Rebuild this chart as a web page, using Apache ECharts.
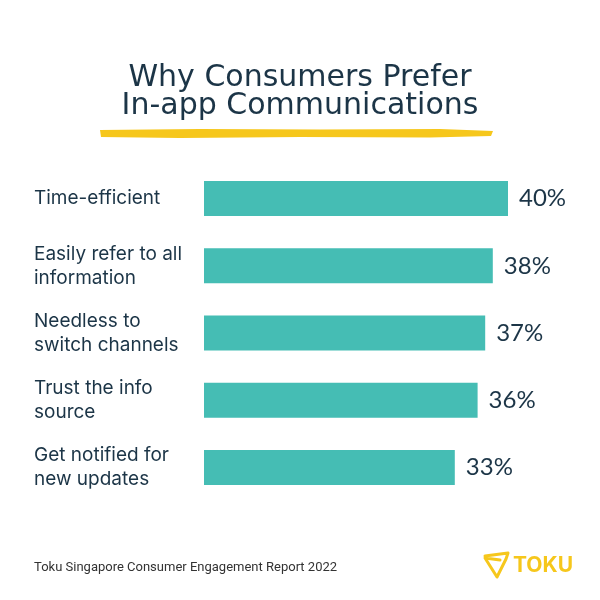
<!DOCTYPE html>
<html>
<head>
<meta charset="utf-8">
<script src="https://cdn.jsdelivr.net/npm/echarts@6/dist/echarts.min.js"></script>
<style>html,body{margin:0;padding:0;background:#fff}#c{width:600px;height:600px}</style>
</head>
<body>
<div id="c"></div>
<script>
const categories = ['Time-efficient', 'Easily refer to all\ninformation', 'Needless to\nswitch channels', 'Trust the info\nsource', 'Get notified for\nnew updates'];
const values = [40, 38, 37, 36, 33];
const titleLines = ['Why Consumers Prefer', 'In-app Communications'];
const footnote = 'Toku Singapore Consumer Engagement Report 2022';

const navy = '#1c3547';
const teal = '#45bdb4';
const yellow = '#f6c71c';

const chart = echarts.init(document.getElementById('c'));
chart.setOption({
  backgroundColor: '#ffffff',
  animation: false,
  grid: { left: 204, right: 16, top: 165, bottom: 99 },
  xAxis: { type: 'value', min: 0, max: 50, show: false },
  yAxis: {
    type: 'category', data: categories, inverse: true,
    axisLine: { show: false }, axisTick: { show: false },
    axisLabel: {
      align: 'left', margin: 170, color: navy, fontSize: 19,
      fontFamily: 'Inter', lineHeight: 24
    }
  },
  series: [{
    type: 'bar', data: values, barWidth: 35,
    itemStyle: { color: teal },
    label: {
      show: true, position: 'right', distance: 11,
      formatter: '{c}%', color: navy, fontSize: 24,
      fontFamily: 'Lato'
    }
  }],
  graphic: [
    { type: 'text', left: 'center', top: 63, style: { text: titleLines[0], fill: navy, font: '30px "DejaVu Sans"' } },
    { type: 'text', left: 'center', top: 91, style: { text: titleLines[1], fill: navy, font: '30px "DejaVu Sans"' } },
    { type: 'polygon', shape: { points: [[100,130],[200,129],[320,129.5],[440,129],[493,131],[491,136],[430,137.5],[300,137],[180,138],[101,137]] }, style: { fill: yellow } },
    { type: 'text', left: 34, top: 561, style: { text: footnote, fill: '#333', font: '13px Roboto' } },
    { type: 'polyline', shape: { points: [[485,556],[508,553],[506,559],[497,577],[485,558],[500,560]] }, style: { stroke: yellow, lineWidth: 3, fill: null, lineJoin: 'round', lineCap: 'round' } },
    { type: 'text', left: 513, top: 555, style: { text: 'TOKU', fill: yellow, font: 'bold 21px Inter' } }
  ]
});
</script>
</body>
</html>
